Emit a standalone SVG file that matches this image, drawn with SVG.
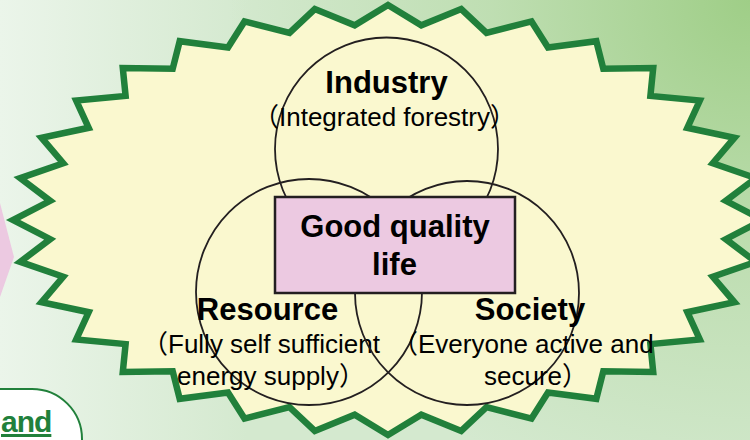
<svg xmlns="http://www.w3.org/2000/svg" width="750" height="440" viewBox="0 0 750 440">
<defs>
<linearGradient id="bgLin" x1="0" y1="0" x2="750" y2="0" gradientUnits="userSpaceOnUse">
<stop offset="0" stop-color="#ebf5ea"/>
<stop offset="0.33" stop-color="#d4e9cf"/>
<stop offset="1" stop-color="#d4e9cf"/>
</linearGradient>
<radialGradient id="bgRad" cx="750" cy="0" r="520" gradientUnits="userSpaceOnUse">
<stop offset="0" stop-color="#9fce87" stop-opacity="1"/>
<stop offset="0.5" stop-color="#9fce87" stop-opacity="0.4"/>
<stop offset="1" stop-color="#9fce87" stop-opacity="0"/>
</radialGradient>
</defs>
<style>
text{font-family:"Liberation Sans","Noto Sans CJK JP",sans-serif;fill:#000}
.title{font-size:31px;font-weight:bold;text-anchor:middle}
.sub{font-size:26px}
.ring{fill:none;stroke:#231f20;stroke-width:1.8}
</style>
<g id="background">
<rect x="0" y="0" width="750" height="440" fill="url(#bgLin)"/>
<rect x="0" y="0" width="750" height="440" fill="url(#bgRad)"/>
<polygon points="0,203 14,257 0,297" fill="#ecc9e1"/>
</g>
<g id="starburst">
<polygon fill="#faf8cf" stroke="#21803b" stroke-width="6.5" stroke-linejoin="miter" points="763,220 725.8,239.2 755.8,261.9 712.8,276.8 734.5,302.3 687.3,312.2 699.8,339.4 650.4,344.1 653.2,372 603.3,371.2 596.3,398.8 548,392.5 531.5,418.6 486.5,407.2 461.2,430.9 421.3,414.7 388,435 354.7,414.7 314.8,430.9 289.5,407.2 244.5,418.6 228,392.5 179.7,398.8 172.7,371.2 122.8,372 125.6,344.1 76.2,339.4 88.7,312.2 41.5,302.3 63.2,276.8 20.2,261.9 50.2,239.2 13,220 50.2,200.8 20.2,178.1 63.2,163.2 41.5,137.7 88.7,127.8 76.2,100.6 125.6,95.9 122.8,68 172.7,68.8 179.7,41.2 228,47.5 244.5,21.4 289.5,32.8 314.8,9.1 354.7,25.3 388,5 421.3,25.3 461.2,9.1 486.5,32.8 531.5,21.4 548,47.5 596.3,41.2 603.3,68.8 653.2,68 650.4,95.9 699.8,100.6 687.3,127.8 734.5,137.7 712.8,163.2 755.8,178.1 725.8,200.8"/>
</g>
<g id="connectors"></g>
<g id="industry">
<circle class="ring" cx="386.5" cy="149" r="111.5"/>
<text class="title" x="386.5" y="93">Industry</text>
<text class="sub" x="253" y="126">（Integrated forestry）</text>
</g>
<g id="resource">
<circle class="ring" cx="309" cy="292" r="113"/>
<text class="title" x="267.5" y="320">Resource</text>
<text class="sub" x="142" y="353">（Fully self sufficient</text>
<text class="sub" x="177" y="385">energy supply）</text>
</g>
<g id="society">
<circle class="ring" cx="467" cy="293" r="112"/>
<text class="title" x="530" y="320">Society</text>
<text class="sub" x="392" y="353">（Everyone active and</text>
<text class="sub" x="484" y="385">secure）</text>
</g>
<g id="goodlife">
<rect x="275" y="197" width="240" height="96" fill="#ecc9e1" stroke="#231f20" stroke-width="2.5"/>
<text class="title" x="395" y="237">Good quality</text>
<text class="title" x="394.5" y="275">life</text>
</g>
<g id="andbox">
<path d="M-10,389 H32 A50,50 0 0 1 82,439 V450 H-10 Z" fill="#ffffff" stroke="#21803b" stroke-width="2"/>
<text x="1" y="432" style="font-size:30px;font-weight:bold;fill:#21803b;letter-spacing:-1px;text-decoration:underline">and</text>
</g>
</svg>
